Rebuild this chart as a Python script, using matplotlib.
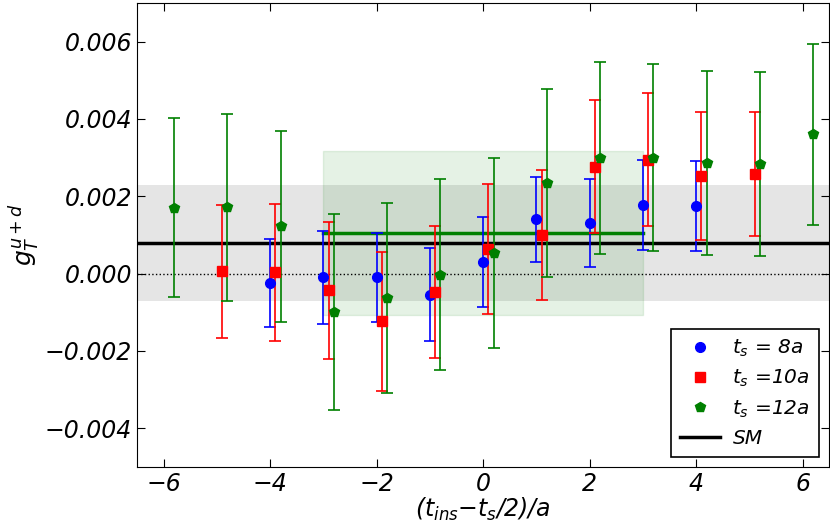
import numpy as np
import matplotlib
matplotlib.use("Agg")
import matplotlib.pyplot as plt
from matplotlib.lines import Line2D

plt.rcParams["font.family"] = "DejaVu Sans"
plt.rcParams["font.style"] = "italic"
plt.rcParams["mathtext.fontset"] = "dejavusans"
plt.rcParams["mathtext.default"] = "it"
plt.rcParams["xtick.direction"] = "in"
plt.rcParams["ytick.direction"] = "in"
plt.rcParams["axes.unicode_minus"] = True

# t_s = 8a
x8 = [-4, -3, -2, -1, 0, 1, 2, 3, 4]
y8 = [-0.24, -0.09, -0.09, -0.54, 0.30, 1.40, 1.31, 1.77, 1.75]
e8 = [1.13, 1.20, 1.15, 1.20, 1.16, 1.11, 1.13, 1.16, 1.17]

# t_s = 10a
x10 = [-5, -4, -3, -2, -1, 0, 1, 2, 3, 4, 5]
y10 = [0.06, 0.03, -0.43, -1.23, -0.48, 0.64, 1.00, 2.76, 2.95, 2.52, 2.57]
e10 = [1.72, 1.78, 1.77, 1.80, 1.71, 1.68, 1.67, 1.72, 1.72, 1.66, 1.60]

# t_s = 12a
x12 = [-6, -5, -4, -3, -2, -1, 0, 1, 2, 3, 4, 5, 6]
y12 = [1.71, 1.72, 1.22, -0.99, -0.63, -0.03, 0.53, 2.35, 2.99, 3.00, 2.86, 2.84, 3.60]
e12 = [2.32, 2.42, 2.48, 2.54, 2.45, 2.47, 2.45, 2.43, 2.48, 2.41, 2.39, 2.38, 2.35]

# standard model band and plateau fit
sm_val, sm_err = 0.79, 1.50
fit_val, fit_err = 1.06, 2.12
fit_range = [-3, 3]

yticks = [-0.004, -0.002, 0.0, 0.002, 0.004, 0.006]

scale = 1e-3

fig = plt.figure(figsize=(8.3, 5.28), dpi=100)
ax = fig.add_axes([0.165, 0.1155, 0.834, 0.879])

ax.axhspan((sm_val - sm_err) * scale, (sm_val + sm_err) * scale, color="gray", alpha=0.2, lw=0)
ax.fill_between(fit_range, (fit_val - fit_err) * scale, (fit_val + fit_err) * scale,
                color="green", alpha=0.1, lw=1, edgecolor=(0, 0.5, 0, 0.15))
ax.axhline(0, color="k", ls=":", lw=1)
ax.axhline(sm_val * scale, color="k", lw=2.5)
ax.plot(fit_range, [fit_val * scale] * 2, color="green", lw=2.5)

series = [
    (x8, y8, e8, 0.0, "blue", "o", 7),
    (x10, y10, e10, 0.1, "red", "s", 7),
    (x12, y12, e12, 0.2, "green", "p", 7),
]
for xs, ys, es, off, col, mk, ms in series:
    ax.errorbar(np.array(xs) + off, np.array(ys) * scale, yerr=np.array(es) * scale,
                fmt=mk, color=col, ms=ms, mec=col, ecolor=col, elinewidth=1.2,
                capsize=4, capthick=1.2)

ax.set_xlim(-6.5, 6.5)
ax.set_ylim(-0.005, 0.007)
ax.set_xticks([-6, -4, -2, 0, 2, 4, 6])
ax.set_yticks(yticks)
ax.set_yticklabels([("%.3f" % v).replace("-", "\u2212") for v in yticks])
ax.tick_params(labelsize=17, top=True, right=True, length=6)
ax.set_xlabel(r"$(t_{ins}{-}t_s/2)/a$", fontsize=17, labelpad=0)
ax.set_ylabel(r"$g_T^{u+d}$", fontsize=18, labelpad=2)

handles = [
    Line2D([], [], ls="none", marker="o", color="blue", ms=7),
    Line2D([], [], ls="none", marker="s", color="red", ms=7),
    Line2D([], [], ls="none", marker="p", color="green", ms=7),
    Line2D([], [], color="k", lw=2.5),
]
labels = [r"$t_s$ = 8a", r"$t_s$ =10a", r"$t_s$ =12a", "SM"]
leg = ax.legend(handles, labels, loc="lower right", fontsize=14.5, fancybox=False,
                framealpha=1, edgecolor="k", borderaxespad=0.5, labelspacing=0.45,
                handletextpad=0.6, borderpad=0.45)
leg.get_frame().set_linewidth(1.2)

fig.savefig("out.png", dpi=100)
